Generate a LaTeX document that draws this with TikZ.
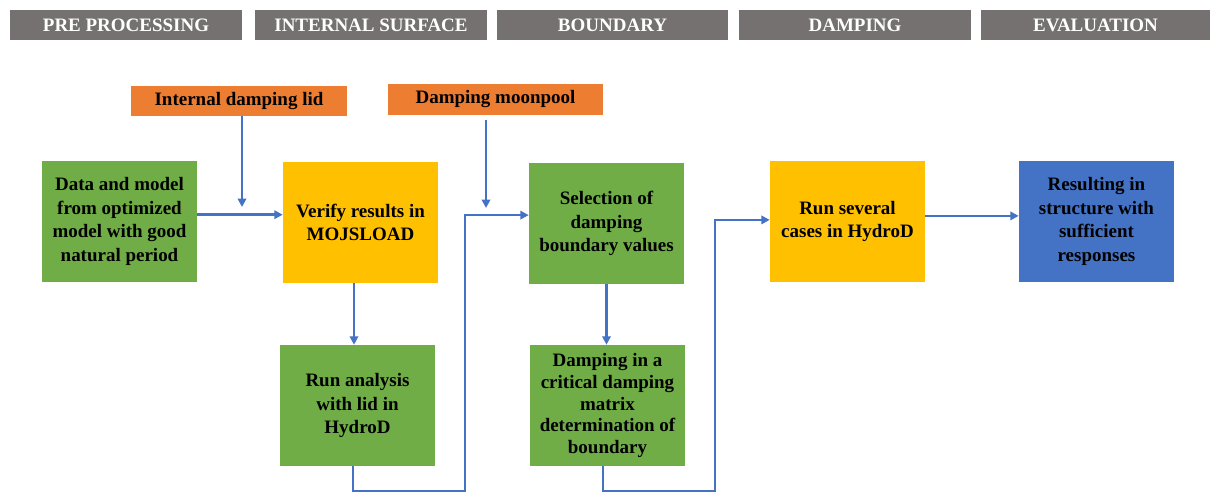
\documentclass[tikz,border=0pt]{standalone}
\usepackage{fontspec}
\setmainfont{Liberation Serif}
\usetikzlibrary{arrows.meta}

\definecolor{hdgray}{HTML}{767171}
\definecolor{stepgreen}{HTML}{70AD47}
\definecolor{stepyellow}{HTML}{FFC000}
\definecolor{taporange}{HTML}{ED7D31}
\definecolor{resblue}{HTML}{4472C4}

\begin{document}
\begin{tikzpicture}[x=0.025cm, y=-0.025cm,
  header/.style={fill=hdgray, text=white, minimum height=0.75cm, inner sep=0pt,
    font=\bfseries\fontsize{13.5}{16}\selectfont},
  box/.style={minimum width=3.875cm, minimum height=3.025cm, align=center, inner sep=2pt,
    font=\bfseries\fontsize{13.5}{16.8}\selectfont},
  tag/.style={fill=taporange, minimum height=0.76cm, inner sep=0pt,
    font=\bfseries\fontsize{13.5}{16}\selectfont},
  flow/.style={draw=resblue, line width=1.8pt, -{Triangle[length=6pt,width=6pt]}}]
  \useasboundingbox (0,0) rectangle (1210,493);

  % phase headers
  \node[header, minimum width=5.8cm]   (hpre)  at (126,25)    {PRE PROCESSING};
  \node[header, minimum width=5.8cm]   (hsurf) at (371,25)    {INTERNAL SURFACE};
  \node[header, minimum width=5.775cm] (hbnd)  at (612.5,25)  {BOUNDARY};
  \node[header, minimum width=5.8cm]   (hdamp) at (855,25)    {DAMPING};
  \node[header, minimum width=5.725cm] (heval) at (1095.5,25) {EVALUATION};

  % inputs from above
  \node[tag, minimum width=5.4cm]   (lid)  at (239,101)    {Internal damping lid};
  \node[tag, minimum width=5.375cm] (pool) at (495.5,99.5) {Damping moonpool};

  % steps
  \node[box, fill=stepgreen]  (data)     at (119.5,221.5) {Data and model\\from optimized\\model with good\\natural period};
  \node[box, fill=stepyellow] (verify)   at (360.5,222.5) {Verify results in\\MOJSLOAD};
  \node[box, fill=stepgreen]  (runlid)   at (357.5,405.5) {Run analysis\\with lid in\\HydroD};
  \node[box, fill=stepgreen]  (select)   at (606.5,223.5) {Selection of\\damping\\boundary values};
  \node[box, fill=stepgreen, font=\bfseries\fontsize{13.5}{15.5}\selectfont]
    (critical) at (607.5,405.5) {Damping in a\\critical damping\\matrix\\determination of\\boundary};
  \node[box, fill=stepyellow] (several)  at (847.5,221.5) {Run several\\cases in HydroD};
  \node[box, fill=resblue]    (result)   at (1096.5,221.5) {Resulting in\\structure with\\sufficient\\responses};

  % free ends and bends
  \coordinate (lidend)  at (242,207);
  \coordinate (poolend) at (486,208);
  \coordinate (bendA)   at (465,491);
  \coordinate (bendB)   at (715,491);

  % connectors
  \draw[flow] ([yshift=0.17cm]data.east) -- ([yshift=0.17cm]data.east -| verify.west);
  \draw[flow] (lidend |- lid.south) -- (lidend);
  \draw[flow] (verify.south -| 354,0) -- (runlid.north -| 354,0);
  \draw[flow] (runlid.south -| 353,0) |- (bendA) |- ([yshift=0.21cm]select.west);
  \draw[flow] ([yshift=-0.12cm]poolend |- pool.south) -- (poolend);
  \draw[flow] (select.south) -- (critical.north -| select.south);
  \draw[flow] (critical.south -| 603,0) |- (bendB) |- ([yshift=0.04cm]several.west);
  \draw[flow] ([yshift=0.14cm]several.east) -- ([yshift=0.14cm]several.east -| result.west);
\end{tikzpicture}
\end{document}
